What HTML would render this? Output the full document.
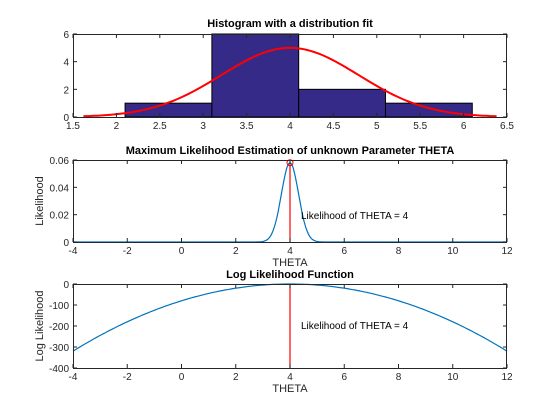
<!DOCTYPE html>
<html><head><meta charset="utf-8"><style>
body{margin:0;background:#fff;}
svg{font-family:"Liberation Sans",sans-serif;display:block}
</style></head><body>
<svg id="c" width="560" height="420"></svg>
<script>
const binEdges=[2.1,3.1,4.1,5.1,6.1];
const binCounts=[1,6,2,1];
const fitMu=[4.0];
const fitSigma=[0.79];
const fitPeak=[5];
const thetaHat=[4];
const likeMax=[0.058];
const nSamples=[10];
const ticks1=[1.5,2,2.5,3,3.5,4,4.5,5,5.5,6,6.5];
const yt1=[0,2,4,6];
const ticks2=[-4,-2,0,2,4,6,8,10,12];
const yt2=[0,0.02,0.04,0.06];
const yt2l=["0","0.02","0.04","0.06"];
const yt3=[0,-100,-200,-300,-400];

const S="http://www.w3.org/2000/svg",svg=document.getElementById('c');
function el(t,a,txt){const e=document.createElementNS(S,t);for(const k in a)e.setAttribute(k,a[k]);if(txt!==undefined)e.textContent=txt;svg.appendChild(e);return e;}
const X0=73,X1=507;
function axes(name,y0,y1,xmin,xmax,ymin,ymax,xt,yt,ytl){
  const sx=v=>X0+(v-xmin)/(xmax-xmin)*(X1-X0);
  const sy=v=>y1-(v-ymin)/(ymax-ymin)*(y1-y0);
  const r=el('rect',{x:X0,y:y0,width:X1-X0,height:y1-y0,fill:'#fff',stroke:'none'});
  
  return {sx,sy,draw(){
    const b=el('rect',{x:X0+.5,y:y0+.5,width:X1-X0-1,height:y1-y0,fill:'none',stroke:'#262626','stroke-width':1});
    
    xt.forEach(v=>{const x=sx(v);
      el('line',{x1:x,x2:x,y1:y1,y2:y1-4,stroke:'#262626'});el('line',{x1:x,x2:x,y1:y0,y2:y0+4,stroke:'#262626'});
      const t=el('text',{x:x,y:y1+12,'font-size':10,'text-anchor':'middle',fill:'#262626'},String(v));
      });
    yt.forEach((v,i)=>{const y=sy(v);
      el('line',{x1:X0,x2:X0+4,y1:y,y2:y,stroke:'#262626'});el('line',{x1:X1,x2:X1-4,y1:y,y2:y,stroke:'#262626'});
      const t=el('text',{x:X0-4,y:y+4,'font-size':10,'text-anchor':'end',fill:'#262626'},ytl?ytl[i]:String(v));
      });
  }};
}
function title(txt,y,name){const t=el('text',{x:290,y:y,'font-size':11,'font-weight':'bold','text-anchor':'middle',fill:'#000'},txt);}
function lab(txt,x,y,name,rot){const a={x:x,y:y,'font-size':11,'text-anchor':'middle',fill:'#262626'};if(rot)a.transform=`rotate(-90 ${x} ${y})`;const t=el('text',a,txt);}

// Plot 1
const a1=axes('histogram',34,117,1.5,6.5,0,6,ticks1,yt1);
binCounts.forEach((c,i)=>{const x=a1.sx(binEdges[i]),x2=a1.sx(binEdges[i+1]);
  const r=el('rect',{x:x,y:a1.sy(c),width:x2-x,height:a1.sy(0)-a1.sy(c),fill:'#352a87',stroke:'#000','stroke-width':1});
  });
let p='';for(let i=0;i<=120;i++){const v=1.62+i*(6.38-1.62)/120;const y=fitPeak[0]*Math.exp(-((v-fitMu[0])**2)/(2*fitSigma[0]**2));p+=(i?'L':'M')+a1.sx(v).toFixed(1)+','+a1.sy(y).toFixed(1);}
let f=el('path',{d:p,fill:'none',stroke:'#f00','stroke-width':2});
a1.draw();title('Histogram with a distribution fit',27,'histogram-title');

// Plot 2
const a2=axes('likelihood',160,242,-4,12,0,0.06,ticks2,yt2,yt2l);
p='';for(let i=0;i<=400;i++){const v=-4+i*16/400;const y=likeMax[0]*Math.exp(-nSamples[0]/2*(v-thetaHat[0])**2);p+=(i?'L':'M')+a2.sx(v).toFixed(1)+','+a2.sy(y).toFixed(1);}
f=el('path',{d:p,fill:'none',stroke:'#0072bd','stroke-width':1.2});
f=el('line',{x1:a2.sx(thetaHat[0]),x2:a2.sx(thetaHat[0]),y1:a2.sy(0),y2:a2.sy(likeMax[0]),stroke:'#f00','stroke-width':1.2});
f=el('circle',{cx:a2.sx(thetaHat[0]),cy:a2.sy(likeMax[0]),r:3,fill:'none',stroke:'#f00'});
f=el('text',{x:301,y:219,'font-size':10,fill:'#000'},'Likelihood of THETA = 4');
a2.draw();title('Maximum Likelihood Estimation of unknown Parameter THETA',154,'likelihood-title');
lab('THETA',290,266,'x-axis-title');lab('Likelihood',43,201,'y-axis-title',true);

// Plot 3
const a3=axes('log-likelihood',284,368,-4,12,-400,0,ticks2,yt3);
p='';for(let i=0;i<=200;i++){const v=-4+i*16/200;const y=-nSamples[0]/2*(v-thetaHat[0])**2;p+=(i?'L':'M')+a3.sx(v).toFixed(1)+','+a3.sy(y).toFixed(1);}
f=el('path',{d:p,fill:'none',stroke:'#0072bd','stroke-width':1.2});
f=el('line',{x1:a3.sx(thetaHat[0]),x2:a3.sx(thetaHat[0]),y1:a3.sy(-400),y2:a3.sy(0),stroke:'#f00','stroke-width':1.2});
f=el('text',{x:301,y:329,'font-size':10,fill:'#000'},'Likelihood of THETA = 4');
a3.draw();title('Log Likelihood Function',278,'log-likelihood-title');
lab('THETA',290,392,'x-axis-title');lab('Log Likelihood',43,326,'y-axis-title',true);
</script>
</body></html>
